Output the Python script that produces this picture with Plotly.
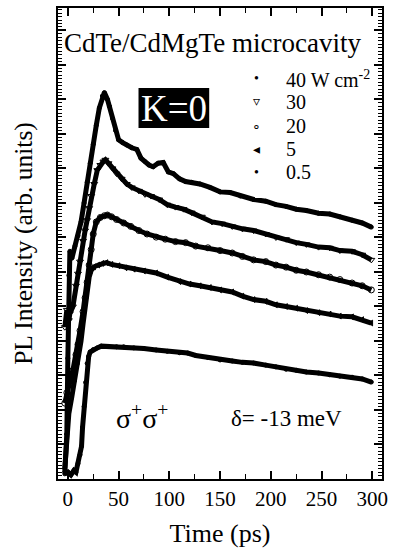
import plotly.graph_objects as go

# ---- data ----
t40 = [-3, -1, 0, 1, 2, 4, 7, 10, 13, 16, 19, 22, 25, 28, 31, 34, 36, 39, 41, 44,
       47, 50, 54, 58, 63, 68, 72, 76, 80, 84, 89, 94, 99, 104, 110, 116, 122, 130, 140, 150,
       160, 170, 183, 195, 205, 215, 225, 235, 247, 258, 268, 280, 290, 299]
y40 = [0.2, 1.3, 3.5, 5.9, 6.6, 6.4, 6.75, 7.05, 7.45, 8.0, 8.6, 9.15, 9.7, 10.25, 10.75, 11.1, 11.2, 11.0, 10.8, 10.45,
       10.1, 9.83, 9.75, 9.68, 9.6, 9.55, 9.3, 9.2, 9.1, 9.05, 9.15, 9.17, 8.9, 8.85, 8.7, 8.62, 8.6, 8.55, 8.45, 8.32,
       8.3, 8.2, 8.1, 8.05, 7.95, 7.9, 7.82, 7.78, 7.7, 7.68, 7.6, 7.5, 7.42, 7.3]

t30 = [-3, -1, 1, 2, 5, 8, 10, 12, 15, 17, 19, 21, 23, 26, 29, 32, 35, 37, 40, 44,
       48, 53, 58, 63, 70, 76, 82, 90, 98, 106, 114, 122, 132, 142, 152, 162, 172, 183, 195, 205,
       215, 225, 235, 247, 258, 268, 280, 290, 299]
y30 = [4.4, 4.9, 4.6, 4.8, 5.0, 5.6, 5.95, 6.3, 6.9, 7.2, 7.5, 7.85, 8.2, 8.55, 8.95, 9.1, 9.2, 9.25, 9.15, 9.0,
       8.85, 8.7, 8.55, 8.45, 8.35, 8.25, 8.2, 8.1, 7.95, 7.88, 7.82, 7.72, 7.6, 7.45, 7.4, 7.32, 7.25, 7.2, 7.1, 7.0,
       6.95, 6.85, 6.8, 6.72, 6.7, 6.62, 6.6, 6.5, 6.35]

t20 = [-3, -1, 1, 3, 5, 8, 10, 12, 15, 17, 19, 21, 23, 25, 28, 32, 36, 39, 43, 48,
       55, 62, 70, 78, 87, 96, 106, 116, 126, 138, 150, 162, 172, 183, 195, 205, 215, 225, 235, 247,
       258, 268, 280, 290, 299]
y20 = [2.2, 2.5, 2.75, 2.95, 3.15, 3.6, 3.9, 4.3, 4.85, 5.25, 5.7, 6.2, 6.65, 7.1, 7.45, 7.58, 7.63, 7.65, 7.6, 7.52,
       7.42, 7.32, 7.2, 7.1, 7.01, 6.95, 6.88, 6.85, 6.75, 6.7, 6.62, 6.55, 6.45, 6.35, 6.3, 6.2, 6.14, 6.05, 6.0, 5.92,
       5.85, 5.78, 5.68, 5.6, 5.48]

t5 = [-3, -1, 1, 4, 7, 10, 13, 15, 17, 19, 21, 23, 26, 30, 34, 38, 43, 50, 57, 65,
      75, 87, 98, 110, 120, 130, 140, 150, 162, 172, 183, 195, 205, 215, 225, 235, 247, 258, 268, 280,
      290, 299]
y5 = [0.3, 1.3, 1.9, 2.4, 2.9, 3.4, 4.0, 4.5, 5.0, 5.5, 5.85, 6.05, 6.15, 6.2, 6.25, 6.27, 6.22, 6.18, 6.12, 6.08,
      6.03, 5.97, 5.85, 5.72, 5.65, 5.6, 5.55, 5.48, 5.42, 5.3, 5.2, 5.15, 5.05, 5.0, 4.95, 4.88, 4.82, 4.78, 4.72, 4.7,
      4.62, 4.52]

t05 = [-3, 0, 3, 6, 8, 10, 12, 13.5, 14.5, 16, 17.5, 19, 20.5, 22, 25, 29, 33, 40, 48, 55,
       65, 75, 87, 98, 110, 118, 126, 138, 150, 162, 172, 183, 195, 205, 215, 225, 235, 247, 258, 268,
       280, 290, 299]
y05 = [0.15, 0.2, 0.12, 0.25, 0.2, 0.45, 0.7, 0.95, 1.5, 2.1, 2.8, 3.35, 3.55, 3.68, 3.75, 3.8, 3.85, 3.84, 3.83, 3.83,
       3.8, 3.78, 3.74, 3.7, 3.66, 3.65, 3.58, 3.52, 3.45, 3.42, 3.38, 3.36, 3.3, 3.25, 3.18, 3.15, 3.1, 3.07, 3.02, 2.98,
       2.95, 2.9, 2.81]

legend_labels = ["40 W cm<sup>-2</sup>", "30", "20", "5", "0.5"]
legend_symbols = ["•", "▿", "∘", "◂", "•"]
x_ticks = [0, 50, 100, 150, 200, 250, 300]

# ---- layout geometry ----
W, H = 393, 552
L, R, T, B = 58, 388, 8, 479
FONT = "Liberation Serif"


def px(x):
    return (x - L) / (R - L)


def py(y):
    return (B - y) / (B - T)


fig = go.Figure()
series = [
    (t40, y40, "circle", 4),
    (t30, y30, "triangle-down-open", 6),
    (t20, y20, "circle-open", 6),
    (t5, y5, "triangle-left", 5),
    (t05, y05, "circle", 4),
]
for tx, yy, sym, ms in series:
    fig.add_trace(go.Scatter(
        x=tx, y=yy, mode="lines+markers",
        line=dict(color="black", width=5),
        marker=dict(symbol=sym, size=ms, color="black", line=dict(color="black", width=1)),
        showlegend=False, hoverinfo="skip",
    ))

axis_common = dict(
    showline=True, linecolor="black", linewidth=2, mirror="allticks",
    ticks="inside", ticklen=8, tickwidth=1.5, tickcolor="black",
    showgrid=False, zeroline=False,
)
fig.update_xaxes(
    range=[-9.7, 309.5], tickvals=x_ticks, ticktext=[str(v) for v in x_ticks],
    tickfont=dict(family=FONT, size=21, color="black"),
    minor=dict(ticks="inside", ticklen=5, tickwidth=1.2, dtick=25, tick0=0, tickcolor="black"),
    title=dict(text="Time (ps)", font=dict(family=FONT, size=26, color="black"), standoff=14),
    **axis_common,
)
fig.update_yaxes(
    range=[0, 13.65], dtick=1, tick0=0, showticklabels=False,
    minor=dict(ticks="inside", ticklen=4, tickwidth=1, dtick=0.1, tick0=0, tickcolor="black"),
    title=dict(text="PL Intensity (arb. units)", font=dict(family=FONT, size=25.5, color="black"), standoff=16),
    **axis_common,
)

ann = []
ann.append(dict(text="CdTe/CdMgTe microcavity", x=px(62), y=py(43), xanchor="left", yanchor="middle",
                font=dict(family=FONT, size=27, color="black")))
ann.append(dict(text="K=0", x=px(176), y=py(109), xanchor="center", yanchor="middle",
                font=dict(family=FONT, size=37, color="white")))
rows = [79, 102, 126, 149, 172]
for sym, lab, yy in zip(legend_symbols, legend_labels, rows):
    ann.append(dict(text=sym, x=px(260), y=py(yy), xanchor="center", yanchor="middle",
                    font=dict(family=FONT, size=14, color="black")))
    ann.append(dict(text=lab, x=px(288), y=py(yy), xanchor="left", yanchor="middle",
                    font=dict(family=FONT, size=20, color="black")))
ann.append(dict(text="σ<sup>+</sup>σ<sup>+</sup>", x=px(144), y=py(416), xanchor="center", yanchor="middle",
                font=dict(family=FONT, size=28, color="black")))
ann.append(dict(text="δ= -13 meV", x=px(232), y=py(418), xanchor="left", yanchor="middle",
                font=dict(family=FONT, size=23, color="black")))
for a in ann:
    a.update(xref="paper", yref="paper", showarrow=False)

fig.update_layout(
    width=W, height=H,
    margin=dict(l=L, r=W - R, t=T, b=H - B),
    paper_bgcolor="white", plot_bgcolor="white",
    annotations=ann,
    shapes=[dict(type="rect", xref="paper", yref="paper", x0=px(140), x1=px(212), y0=py(128), y1=py(88),
                 fillcolor="black", line=dict(width=0), layer="above")],
)
fig.write_html("out.html")
